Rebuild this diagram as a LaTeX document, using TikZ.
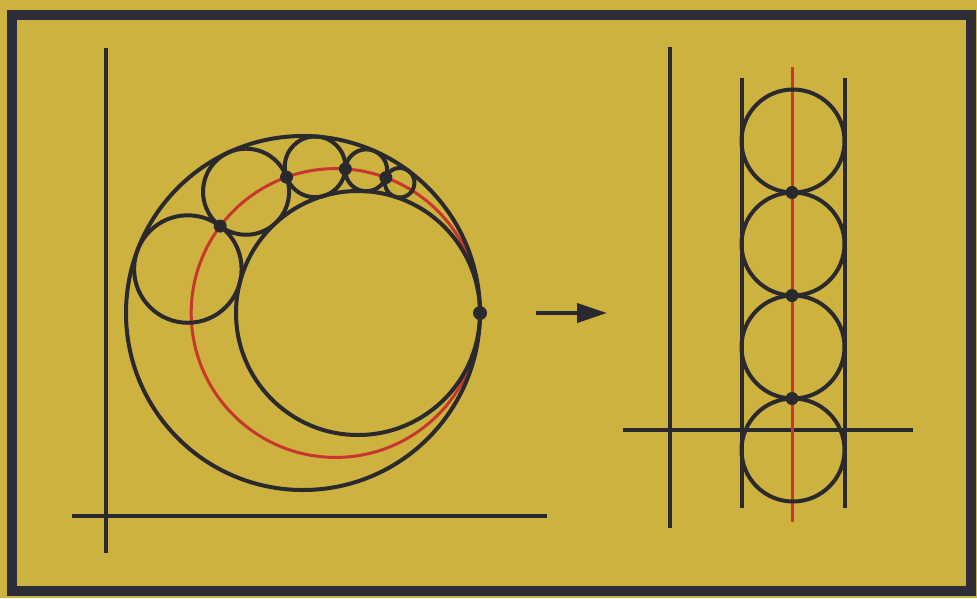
\documentclass[tikz,border=0pt]{standalone}
\usepackage{tikz}
\usetikzlibrary{positioning,arrows.meta}
\usepackage{xcolor}
\definecolor{mustard}{HTML}{CDB23F}
\definecolor{ink}{HTML}{2A2A2E}
\definecolor{frameInk}{HTML}{2E2E38}
\definecolor{chainRed}{HTML}{C8372D}

\begin{document}
\begin{tikzpicture}[
        x=1pt, y=-1pt,
        axisLine/.style={draw=ink, line width=3.6pt},
        ringLine/.style={draw=ink, line width=4pt},
        redLine/.style={draw=chainRed, line width=3pt},
        touchDot/.style={fill=ink},
        arrowStyle/.style={-{Triangle[length=30pt,width=19pt]}, draw=ink, fill=ink, line width=4pt}
    ]
        % Background and frame
        \fill[mustard] (0,0) rectangle (977,598);
        \useasboundingbox (0,0) rectangle (977,598);
        \draw[frameInk, line width=10pt] (12,15) rectangle (971,590.5);

        % Left: axes
        \coordinate (leftAxisTop) at (106,48);
        \coordinate (leftAxisBottom) at (106,553);
        \coordinate (leftAxisWest) at (72,516);
        \coordinate (leftAxisEast) at (547,516);
        \draw[axisLine] (leftAxisTop) -- (leftAxisBottom);
        \draw[axisLine] (leftAxisWest) -- (leftAxisEast);

        % Left: the two tangent circles and the chain
        \coordinate (touchP) at (480,313);
        \coordinate (outerC) at (303,313);
        \coordinate (innerC) at (358,313);
        \coordinate (redC) at (335.6,313);
        \draw[redLine] (redC) circle[radius=144.4];
        \draw[ringLine] (outerC) circle[radius=177];
        \draw[ringLine] (innerC) circle[radius=122];
        \foreach \cx/\cy/\rad [count=\i] in {187.85/269.03/53.74, 246.07/191.73/43.03, 315.08/166.83/30.34, 366.23/170.31/20.93, 399.69/182.74/14.77} {
            \coordinate (chain\i) at (\cx,\cy);
            \draw[ringLine] (chain\i) circle[radius=\rad];
        }
        \foreach \px/\py [count=\i] in {220.18/226.10, 286.55/177.13, 345.35/168.89, 385.85/177.60} {
            \fill[touchDot] (\px,\py) circle[radius=6.5];
        }
        \fill[touchDot] (touchP) circle[radius=7];

        % Arrow
        \coordinate (arrowFrom) at (536,313);
        \coordinate (arrowTo) at (607,313);
        \draw[arrowStyle] (arrowFrom) -- (arrowTo);

        % Right: axes
        \coordinate (rightAxisTop) at (670,47);
        \coordinate (rightAxisBottom) at (670,528);
        \coordinate (rightAxisWest) at (623,430);
        \coordinate (rightAxisEast) at (913,430);
        \draw[axisLine] (rightAxisTop) -- (rightAxisBottom);
        \draw[axisLine] (rightAxisWest) -- (rightAxisEast);

        % Right: rails, red line and the column of circles
        \coordinate (railLeftTop) at (741.5,78);
        \coordinate (railLeftBottom) at (741.5,508);
        \coordinate (railRightTop) at (844.5,78);
        \coordinate (railRightBottom) at (844.5,508);
        \coordinate (redTop) at (792,67);
        \coordinate (redBottom) at (792,522);
        \draw[redLine] (redTop) -- (redBottom);
        \draw[ringLine] (railLeftTop) -- (railLeftBottom);
        \draw[ringLine] (railRightTop) -- (railRightBottom);
        \foreach \cy [count=\i] in {141,244,347,450} {
            \coordinate (column\i) at (793,\cy);
            \draw[ringLine] (column\i) circle[radius=51.5];
        }
        \foreach \py in {192.5,295.5,398.5} {
            \fill[touchDot] (792,\py) circle[radius=6.5];
        }
    \end{tikzpicture}
\end{document}
